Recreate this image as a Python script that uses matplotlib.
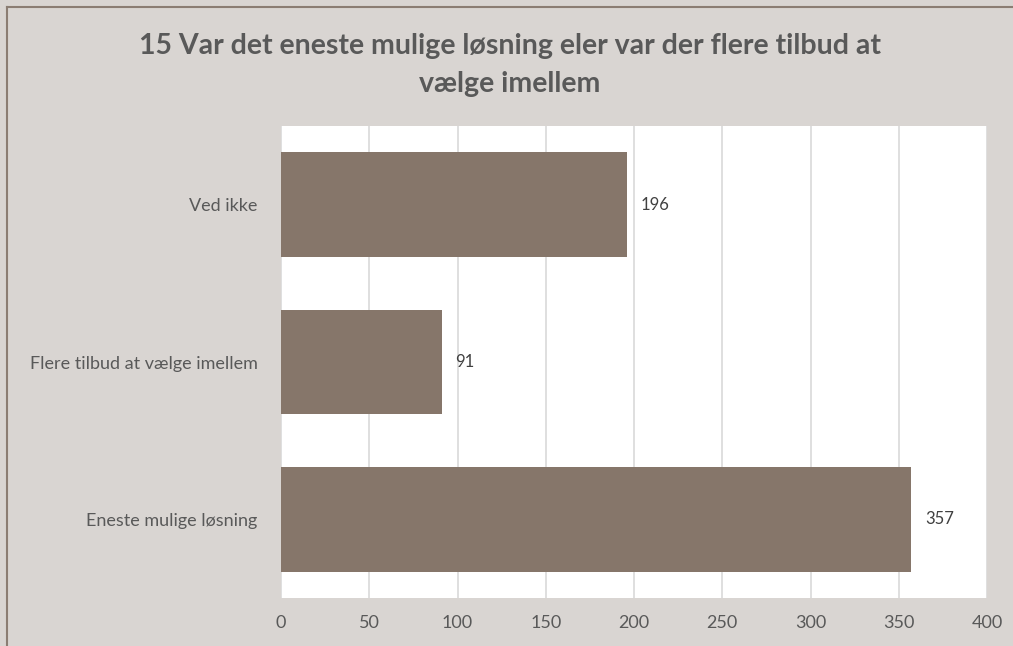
import matplotlib.pyplot as plt
from matplotlib.lines import Line2D

# Chart data
categories = ['Eneste mulige løsning', 'Flere tilbud at vælge imellem', 'Ved ikke']
values = [357, 91, 196]
xticks = [0, 50, 100, 150, 200, 250, 300, 350, 400]
title = '15 Var det eneste mulige løsning eler var der flere tilbud at\nvælge imellem'

bg = '#D9D5D2'
bar_color = '#86766A'
text_color = '#595959'

plt.rcParams['font.family'] = ['Lato', 'DejaVu Sans']

W, H = 1013, 646
fig = plt.figure(figsize=(W / 100, H / 100), dpi=100, facecolor=bg)
# plot area in pixels: x 281..987, y 126..598
ax = fig.add_axes([281 / W, 1 - 598 / H, (987 - 281) / W, (598 - 126) / H])
ax.set_facecolor('white')

ypos = range(len(categories))
ax.barh(ypos, values, height=0.667, color=bar_color, zorder=3)
for y, v in zip(ypos, values):
    ax.annotate(str(v), (v, y), xytext=(10, 0), textcoords='offset points',
                va='center', ha='left', fontsize=12, color='#404040')

ax.set_xlim(0, 400)
ax.set_ylim(-0.5, len(categories) - 0.5)
ax.set_xticks(xticks)
ax.set_yticks(list(ypos))
ax.set_yticklabels(categories)
ax.grid(axis='x', color='#D9D9D9', linewidth=1.2, zorder=0)
ax.tick_params(axis='both', length=0, colors=text_color, labelsize=13)
ax.tick_params(axis='x', pad=12)
ax.tick_params(axis='y', pad=17)
for s in ax.spines.values():
    s.set_visible(False)

fig.text(0.503, 1 - 65 / H, title, ha='center', va='center', fontsize=20.5,
         fontweight='bold', color=text_color, linespacing=1.55)

# outer border (left and top visible)
fig.add_artist(Line2D([6.5 / W, 6.5 / W], [0, 1 - 6.5 / H], transform=fig.transFigure,
                      color='#8B7D73', linewidth=1.5))
fig.add_artist(Line2D([6.5 / W, 1], [1 - 6.5 / H, 1 - 6.5 / H], transform=fig.transFigure,
                      color='#8B7D73', linewidth=1.5))

fig.savefig('out.png', dpi=100, facecolor=bg)
